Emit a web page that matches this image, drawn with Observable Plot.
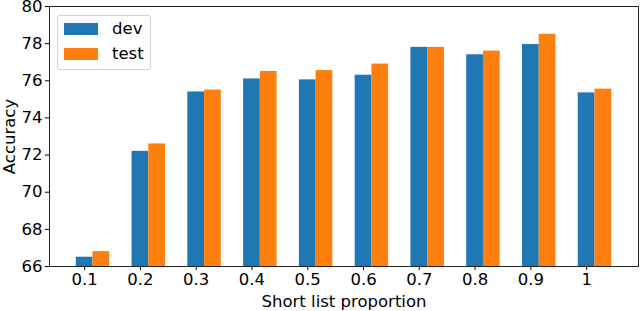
<!DOCTYPE html>
<html>
<head>
<meta charset="utf-8">
<script src="https://cdn.jsdelivr.net/npm/d3@7"></script>
<script src="https://cdn.jsdelivr.net/npm/@observablehq/plot@0.6"></script>
<style>
  html, body { margin: 0; padding: 0; background: white; }
  #wrap { position: relative; width: 640px; height: 311px; font-family: "DejaVu Sans", sans-serif; }
  #legend { position: absolute; left: 57px; top: 15px; width: 92px; height: 53px; border: 1px solid #d0d0d0; border-radius: 3px; background: rgba(255,255,255,0.8); font-size: 16.5px; color: #000; }
  .item { position: absolute; left: 6px; height: 12px; }
  .sw { position: absolute; left: 0; top: 0; width: 34px; height: 12px; }
  .lab { position: absolute; left: 48px; top: 0; white-space: nowrap; line-height: 12px; }
</style>
</head>
<body>
<div id="wrap"></div>
<script>
const labels = ["0.1", "0.2", "0.3", "0.4", "0.5", "0.6", "0.7", "0.8", "0.9", "1"];
const dev  = [66.5, 72.2, 75.4, 76.1, 76.05, 76.3, 77.8, 77.4, 77.95, 75.35];
const test = [66.8, 72.6, 75.5, 76.5, 76.55, 76.9, 77.8, 77.6, 78.5, 75.55];
const series = ["dev", "test"];
const colors = ["#1f77b4", "#ff7f0e"];
const yTicks = [66, 68, 70, 72, 74, 76, 78, 80];

const barW = 0.3;
const data = labels.flatMap((l, i) => [
  {i, label: l, series: "dev", value: dev[i], k: 0},
  {i, label: l, series: "test", value: test[i], k: 1}
]);
const idx = labels.map((_, i) => i);

const chart = Plot.plot({
  width: 640,
  height: 311,
  marginLeft: 49,
  marginRight: 2,
  marginTop: 6,
  marginBottom: 45,
  style: {fontFamily: "DejaVu Sans, sans-serif", fontSize: "16.5px", background: "white", color: "black", overflow: "visible"},
  x: {type: "linear", domain: [-0.63, 9.93]},
  y: {domain: [66, 80]},
  color: {domain: series, range: colors},
  marks: [
    Plot.rect(data, {
      x1: d => d.i - barW / 2 + d.k * barW,
      x2: d => d.i + barW / 2 + d.k * barW,
      y1: 66,
      y2: "value",
      fill: "series"
    }),
    Plot.frame({stroke: "#222", strokeWidth: 1}),
    Plot.axisX({
      ticks: idx, tickFormat: i => labels[i], tickSize: 4, tickPadding: 3, fontSize: 16.5,
      label: "Short list proportion", labelAnchor: "center", labelArrow: "none", labelOffset: 40
    }),
    Plot.axisY({
      ticks: yTicks, tickSize: 4, tickPadding: 3, fontSize: 16.5,
      label: "Accuracy", labelAnchor: "center", labelArrow: "none", labelOffset: 46
    })
  ]
});
const wrap = document.getElementById("wrap");
wrap.appendChild(chart);

const legend = document.createElement("div");
legend.id = "legend";
series.forEach((s, j) => {
  const it = document.createElement("div");
  it.className = "item";
  it.style.top = (7 + j * 25) + "px";
  const sw = document.createElement("div");
  sw.className = "sw";
  sw.style.background = colors[j];
  const lb = document.createElement("div");
  lb.className = "lab";
  lb.textContent = s;
  it.appendChild(sw); it.appendChild(lb);
  legend.appendChild(it);
});
wrap.appendChild(legend);
</script>
</body>
</html>
